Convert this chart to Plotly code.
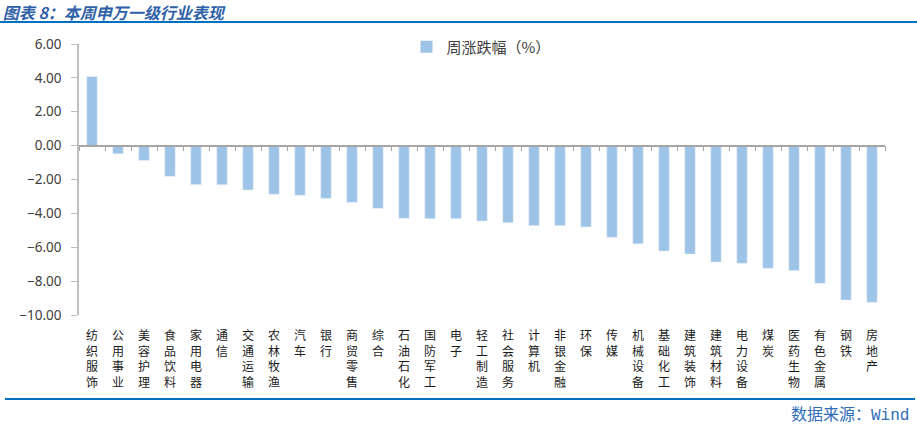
import plotly.graph_objects as go

categories = ["纺织服饰", "公用事业", "美容护理", "食品饮料", "家用电器", "通信", "交通运输", "农林牧渔",
              "汽车", "银行", "商贸零售", "综合", "石油石化", "国防军工", "电子", "轻工制造",
              "社会服务", "计算机", "非银金融", "环保", "传媒", "机械设备", "基础化工", "建筑装饰",
              "建筑材料", "电力设备", "煤炭", "医药生物", "有色金属", "钢铁", "房地产"]
weekly_change = [4.08, -0.48, -0.87, -1.81, -2.30, -2.31, -2.62, -2.87,
                 -2.93, -3.11, -3.35, -3.70, -4.29, -4.31, -4.31, -4.45,
                 -4.55, -4.72, -4.72, -4.80, -5.41, -5.80, -6.22, -6.40,
                 -6.87, -6.95, -7.24, -7.38, -8.13, -9.11, -9.25]
series_name = "周涨跌幅（%）"
y_ticks = [6, 4, 2, 0, -2, -4, -6, -8, -10]

tick_text = ["<br>".join(list(c)) for c in categories]

fig = go.Figure()
fig.add_trace(go.Bar(x=categories, y=weekly_change, name=series_name,
                     marker=dict(color="#9DC3E6", line=dict(width=0))))
# invisible trace on the zero-positioned axis (provides the boundary tick marks)
fig.add_trace(go.Bar(x=categories, y=weekly_change, xaxis="x2", showlegend=False,
                     marker=dict(color="rgba(0,0,0,0)"), hoverinfo="skip"))

axis_gray = "#A6A6A6"
L, T, W, H = 79, 44, 806, 271

def px(xp):
    return (xp - L) / W

def py(yp):
    return (T + H - yp) / H

fig.update_layout(
    width=917, height=427,
    margin=dict(l=L, r=917 - L - W, t=T, b=427 - T - H),
    paper_bgcolor="white", plot_bgcolor="white",
    bargap=0.6,
    showlegend=True,
    legend=dict(x=px(481), y=py(47), xanchor="center", yanchor="middle",
                orientation="h", itemwidth=30,
                font=dict(family="Noto Sans CJK SC", size=15, color="#404040"),
                bgcolor="rgba(0,0,0,0)"),
    title=dict(text="<b><i>图表 8：本周申万一级行业表现</i></b>", xref="container", yref="container",
               x=0.003, y=0.969, xanchor="left", yanchor="middle",
               font=dict(family="Noto Sans CJK SC", size=16, color="#2F5FA7")),
    xaxis=dict(type="category", range=[-0.5, len(categories) - 0.5], tickmode="array",
               tickvals=categories, ticktext=tick_text, showline=False, ticks="",
               showgrid=False, zeroline=False,
               tickfont=dict(family="Noto Sans CJK SC", size=12, color="#1A1A1A"),
               ticklabelstandoff=12),
    xaxis2=dict(type="category", overlaying="x", anchor="free", position=py(T + H * 6 / 16),
                range=[-0.5, len(categories) - 0.5], showticklabels=False,
                showline=True, linecolor=axis_gray, linewidth=1.5,
                ticks="outside", tickson="boundaries", ticklen=5, tickcolor=axis_gray,
                tickwidth=1, showgrid=False, zeroline=False),
    yaxis=dict(range=[-10, 6], tickmode="array", tickvals=y_ticks, tickformat=".2f",
               showline=True, linecolor="#BFBFBF", linewidth=1.5, ticks="outside", ticklen=6,
               tickcolor="#BFBFBF", showgrid=False, zeroline=False,
               tickfont=dict(family="Noto Sans", size=13.5, color="#404040"),
               ticklabelstandoff=7),
    shapes=[
        dict(type="line", xref="paper", yref="paper", x0=px(0), x1=px(917), y0=py(22), y1=py(22),
             line=dict(color="#0070C0", width=2)),
        dict(type="line", xref="paper", yref="paper", x0=px(5), x1=px(915), y0=py(399), y1=py(399),
             line=dict(color="#0070C0", width=2)),
    ],
    annotations=[
        dict(text="数据来源：<span style='font-family:Liberation Mono'>Wind</span>",
             xref="paper", yref="paper", x=px(911), y=py(413),
             xanchor="right", yanchor="middle", showarrow=False,
             font=dict(family="Noto Sans CJK SC", size=16, color="#2F6EB5")),
    ],
)

fig.write_html("out.html", config={"displayModeBar": False},
               post_script="document.body.style.margin='0';")
